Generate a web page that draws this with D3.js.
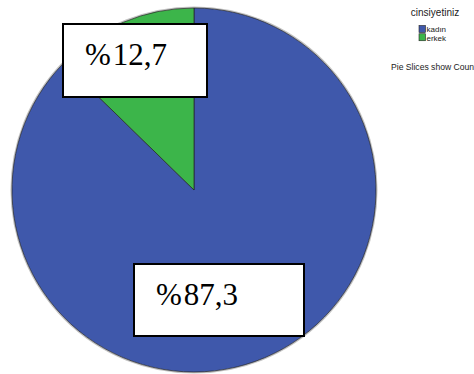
<!DOCTYPE html>
<html>
<head>
<meta charset="utf-8">
<script src="https://cdn.jsdelivr.net/npm/d3@7"></script>
<style>
  html, body { margin: 0; padding: 0; background: #fff; overflow: hidden; }
  svg { display: block; }
</style>
</head>
<body>
<svg id="chart" width="474" height="374"></svg>
<script>
// Gender distribution (cinsiyetiniz), pie slices show percentage of counts
const categories = ["kadın", "erkek"];
const percents = [87.3, 12.7];
const sliceLabels = ["%87,3", "%12,7"];
const colors = ["#3f58ab", "#3cb54a"];
const legendTitle = "cinsiyetiniz";
const footnote = "Pie Slices show Counts";

const svg = d3.select("#chart");
const cx = 194, cy = 190, r = 182;

const color = d3.scaleOrdinal().domain(categories).range(colors);

// Blue slice starts at 12 o'clock and runs clockwise; green closes the circle
const pie = d3.pie()
  .sort(null)
  .value(d => d.value)
  .startAngle(0)
  .endAngle(2 * Math.PI);
const data = categories.map((c, i) => ({ name: c, value: percents[i], label: sliceLabels[i] }));
const arcs = pie(data);
const arc = d3.arc().innerRadius(0).outerRadius(r);

const g = svg.append("g").attr("transform", `translate(${cx},${cy})`);

// soft shadow ring
g.append("circle")
  .attr("r", r + 0.8)
  .attr("fill", "none")
  .attr("stroke", "#999")
  .attr("stroke-width", 1.5)
  .attr("opacity", 0.6);

g.selectAll("path.slice")
  .data(arcs)
  .join("path")
  .attr("class", "slice")
  .attr("d", arc)
  .attr("fill", d => color(d.data.name))
  .attr("stroke", "#222")
  .attr("stroke-width", 0.7)
  .attr("stroke-linejoin", "round");

// Label boxes for each slice
const labelBoxes = [
  { idx: 0, w: 170, h: 72, dx: -60, dy: 74 },   // kadın
  { idx: 1, w: 144, h: 73, dx: -131, dy: -166 } // erkek
];
labelBoxes.forEach(b => {
  const a = arcs[b.idx];
  const bx = cx + b.dx, by = cy + b.dy;
  svg.append("rect")
    .attr("x", bx).attr("y", by)
    .attr("width", b.w).attr("height", b.h)
    .attr("fill", "#fff")
    .attr("stroke", "#000")
    .attr("stroke-width", 2);
  const t = svg.append("text")
    .attr("x", bx + 22)
    .attr("y", by + 41)
    .attr("font-family", "'Liberation Serif', 'Times New Roman', serif")
    .attr("font-size", 31)
    .attr("fill", "#000");
  t.append("tspan").text(a.data.label.slice(0, 1));
  t.append("tspan").attr("dx", 2).text(a.data.label.slice(1));
});

// Legend
const legend = svg.append("g").attr("font-family", "'Liberation Sans', Arial, sans-serif");
legend.append("text")
  .attr("x", 435).attr("y", 16)
  .attr("text-anchor", "middle")
  .attr("font-size", 10)
  .attr("fill", "#222")
  .text(legendTitle);

const ly = d3.scaleBand().domain(categories).range([24.5, 42]).padding(0.12);
const items = legend.selectAll("g.item")
  .data(categories)
  .join("g")
  .attr("class", "item")
  .attr("transform", d => `translate(419,${ly(d)})`);
items.append("rect")
  .attr("width", 6.5).attr("height", 7)
  .attr("fill", d => color(d))
  .attr("stroke", "#222")
  .attr("stroke-width", 0.6);
items.append("text")
  .attr("x", 7.5).attr("y", 6.8)
  .attr("font-size", 8)
  .attr("fill", "#222")
  .text(d => d);

// footnote runs past the right edge of the canvas
legend.append("text")
  .attr("x", 391).attr("y", 70)
  .attr("font-size", 8.6)
  .attr("fill", "#222")
  .text(footnote);
</script>
</body>
</html>
